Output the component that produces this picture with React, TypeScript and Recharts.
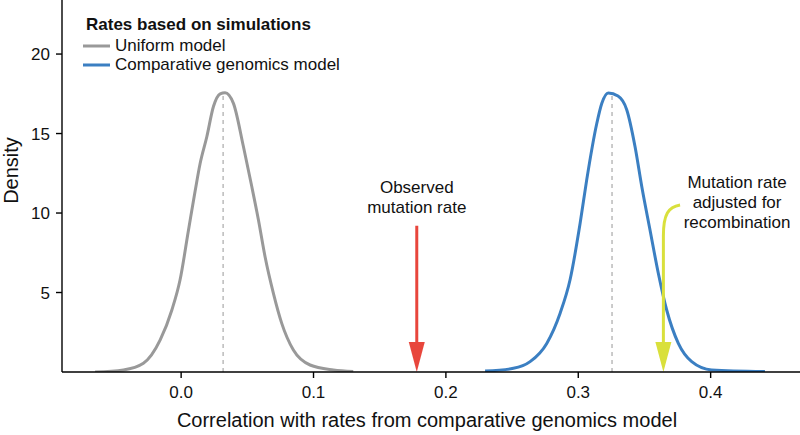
import React from "react";
import {
  LineChart,
  Line,
  XAxis,
  YAxis,
  Legend,
  ReferenceLine,
  Label,
} from "recharts";

const FONT = '"Liberation Sans", Arial, Helvetica, sans-serif';
const GRAY = "#999999";
const BLUE = "#3b7fc2";
const RED = "#e8463c";
const YELLOW = "#d9e03c";

// density curves
const uniformX = [
  -0.065, -0.0436, -0.0285, -0.0159, -0.007, -0.0008, 0.0055, 0.0106, 0.0143,
  0.0194, 0.0244, 0.0295, 0.0332, 0.0395, 0.047, 0.0534, 0.0584, 0.0634,
  0.0697, 0.076, 0.0848, 0.0974, 0.115, 0.13,
];
const uniformY = [
  0, 0.13, 0.55, 2.0, 3.9, 5.8, 8.9, 11.4, 13.1, 14.8, 16.7, 17.5, 17.57, 16.9,
  14.2, 11.65, 9.56, 7.25, 4.95, 3.06, 1.38, 0.44, 0.13, 0.03,
];
const genomicsX = [
  0.2296, 0.251, 0.2636, 0.2762, 0.2863, 0.2938, 0.3014, 0.3064, 0.3139,
  0.3178, 0.3227, 0.33, 0.3366, 0.3429, 0.348, 0.3542, 0.3605, 0.3668, 0.3756,
  0.3857, 0.4008, 0.441,
];
const genomicsY = [
  0.06, 0.23, 0.65, 1.8, 3.7, 5.8, 9.35, 12.1, 15.6, 16.9, 17.55, 17.36, 16.5,
  14.17, 11.65, 8.93, 6.2, 3.9, 1.8, 0.65, 0.13, 0.03,
];

const seriesNames = ["Uniform model", "Comparative genomics model"];
const xTicks = [0, 0.1, 0.2, 0.3, 0.4];
const yTicks = [5, 10, 15, 20];

// medians (dashed lines)
const uniformMedian = 0.0317;
const uniformPeak = 17.57;
const genomicsMedian = 0.3255;
const genomicsPeak = 17.45;

// arrows
const observedRate = 0.178;
const observedTop = 9.2;
const adjustedRate = 0.3643;
const adjustedStart = { x: 0.3769, y: 10.5 };

const uniformData = uniformX.map((x, i) => ({ x, y: uniformY[i] }));
const genomicsData = genomicsX.map((x, i) => ({ x, y: genomicsY[i] }));

const textStyle = { fontFamily: FONT, fontSize: 17, fill: "#111" };

function RedArrow(p: any) {
  const { x1, y1, x2, y2 } = p;
  const head = 30;
  return (
    <g>
      <line x1={x1} y1={y1} x2={x2} y2={y2 - head + 2} stroke={RED} strokeWidth={3} />
      <polygon
        points={`${x2 - 8},${y2 - head} ${x2 + 8},${y2 - head} ${x2},${y2}`}
        fill={RED}
      />
      <text x={x1} y={y1 - 33} textAnchor="middle" style={textStyle}>
        Observed
      </text>
      <text x={x1} y={y1 - 13} textAnchor="middle" style={textStyle}>
        mutation rate
      </text>
    </g>
  );
}

function YellowArrow(p: any) {
  const { x1, y1, x2, y2 } = p;
  const head = 30;
  return (
    <g>
      <path
        d={`M ${x1} ${y1} C ${x2 + 5} ${y1 + 2}, ${x2} ${y1 + 9}, ${x2} ${y1 + 31} L ${x2} ${y2 - head + 2}`}
        fill="none"
        stroke={YELLOW}
        strokeWidth={3}
      />
      <polygon
        points={`${x2 - 8},${y2 - head} ${x2 + 8},${y2 - head} ${x2},${y2}`}
        fill={YELLOW}
      />
      <text x={x1 + 57} y={y1 - 17} textAnchor="middle" style={textStyle}>
        Mutation rate
      </text>
      <text x={x1 + 57} y={y1 + 3} textAnchor="middle" style={textStyle}>
        adjusted for
      </text>
      <text x={x1 + 57} y={y1 + 23} textAnchor="middle" style={textStyle}>
        recombination
      </text>
    </g>
  );
}

const renderLegend = (props: any) => {
  const items = [...(props.payload || [])].sort(
    (a: any, b: any) => seriesNames.indexOf(a.value) - seriesNames.indexOf(b.value),
  );
  return (
    <div style={{ fontFamily: FONT, color: "#111", textAlign: "left" }}>
      <div style={{ fontWeight: "bold", fontSize: 17, lineHeight: "20px", paddingLeft: 3, marginBottom: 1 }}>
        Rates based on simulations
      </div>
      {items.map((item: any) => (
        <div
          key={item.value}
          style={{ display: "flex", alignItems: "center", fontSize: 17, height: 19, lineHeight: "19px" }}
        >
          <svg width={27} height={4} style={{ marginRight: 5 }}>
            <line x1={0} y1={2} x2={27} y2={2} stroke={item.color} strokeWidth={3} />
          </svg>
          <span>{item.value}</span>
        </div>
      ))}
    </div>
  );
};

export default function App() {
  return (
    <div style={{ position: "absolute", left: 0, top: 0, background: "#fff" }}>
      <LineChart
        width={800}
        height={435}
        margin={{ top: 0, right: 0, bottom: 0, left: 0 }}
      >
        <XAxis
          dataKey="x"
          type="number"
          domain={[-0.09, 0.4675]}
          ticks={xTicks}
          tickFormatter={(v) => v.toFixed(1)}
          allowDataOverflow
          height={63}
          stroke="#000"
          strokeWidth={1.4}
          tickSize={6}
          tickMargin={8}
          tick={{ fill: "#111", fontSize: 17, fontFamily: FONT }}
        >
          <Label
            content={({ viewBox }: any) => (
              <text
                x={viewBox.x + viewBox.width / 2 - 4}
                y={427}
                textAnchor="middle"
                style={{ fontFamily: FONT, fontSize: 20, fill: "#111" }}
              >
                Correlation with rates from comparative genomics model
              </text>
            )}
          />
        </XAxis>
        <YAxis
          type="number"
          domain={[0, 23.4]}
          ticks={yTicks}
          allowDataOverflow
          width={62}
          stroke="#000"
          strokeWidth={1.4}
          tickSize={6}
          tickMargin={6}
          tick={{ fill: "#111", fontSize: 17, fontFamily: FONT }}
        >
          <Label
            content={() => (
              <text
                x={18}
                y={170.5}
                transform={`rotate(-90, 18, 170.5)`}
                textAnchor="middle"
                style={{ fontFamily: FONT, fontSize: 20, fill: "#111" }}
              >
                Density
              </text>
            )}
          />
        </YAxis>
        <Legend
          layout="vertical"
          align="center"
          verticalAlign="middle"
          content={renderLegend}
          wrapperStyle={{ top: 15, left: 83, width: "auto" }}
        />
        <ReferenceLine
          segment={[
            { x: uniformMedian, y: 0 },
            { x: uniformMedian, y: uniformPeak },
          ]}
          stroke="#aaaaaa"
          strokeDasharray="4 4"
          strokeWidth={1.2}
        />
        <ReferenceLine
          segment={[
            { x: genomicsMedian, y: 0 },
            { x: genomicsMedian, y: genomicsPeak },
          ]}
          stroke="#aaaaaa"
          strokeDasharray="4 4"
          strokeWidth={1.2}
        />
        <Line
          data={uniformData}
          dataKey="y"
          name={seriesNames[0]}
          type="monotone"
          stroke={GRAY}
          strokeWidth={3}
          dot={false}
          activeDot={false}
          isAnimationActive={false}
        />
        <Line
          data={genomicsData}
          dataKey="y"
          name={seriesNames[1]}
          type="monotone"
          stroke={BLUE}
          strokeWidth={3}
          dot={false}
          activeDot={false}
          isAnimationActive={false}
        />
        <ReferenceLine
          segment={[
            { x: observedRate, y: observedTop },
            { x: observedRate, y: 0 },
          ]}
          shape={RedArrow}
        />
        <ReferenceLine
          segment={[adjustedStart, { x: adjustedRate, y: 0 }]}
          shape={YellowArrow}
        />
      </LineChart>
    </div>
  );
}
